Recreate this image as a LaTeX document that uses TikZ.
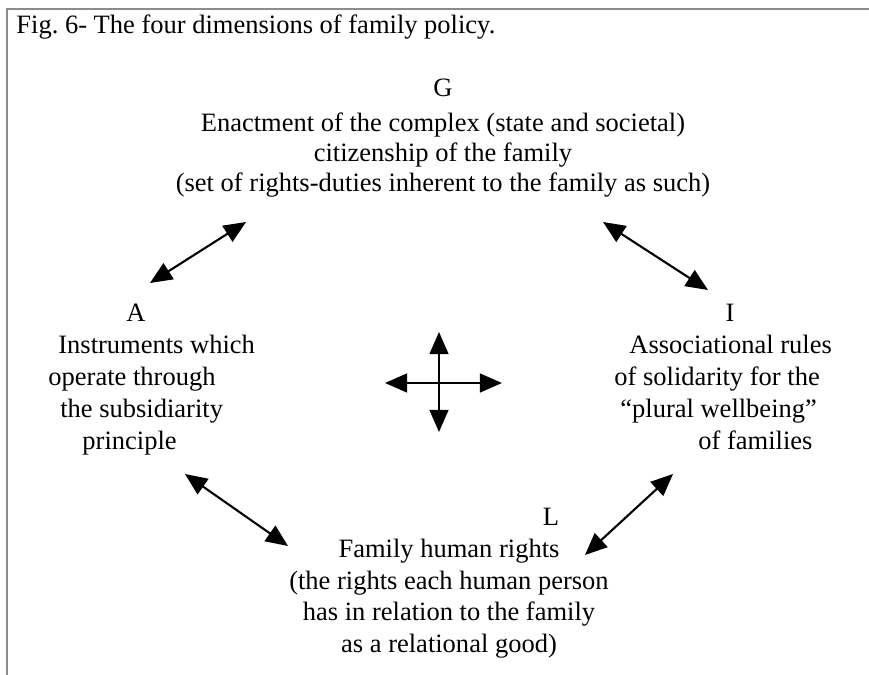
\documentclass[tikz,border=0pt]{standalone}
\usepackage{fontspec}
\setmainfont{Liberation Serif}
\usetikzlibrary{arrows.meta}
\frenchspacing

\tikzset{
  label/.style={inner sep=0pt, font=\fontsize{12}{14.5}\selectfont},
  biarrow/.style={line width=0.95pt, {Triangle[length=10pt,width=8.5pt]}-{Triangle[length=10pt,width=8.5pt]}},
  frameline/.style={line width=0.9pt, draw=black!45}
}

\begin{document}
\begin{tikzpicture}[x=0.4528pt, y=-0.4528pt]
  \useasboundingbox (0,0) rectangle (869,675);

  % frame (top and left edges only)
  \draw[frameline] (869,9) -- (7,9) -- (7,675);

  % caption
  \node[label, anchor=base west] (title) at (16,34) {Fig. 6- The four dimensions of family policy.};

  % multi-line nodes below are placed by the baseline of their last line

  % G
  \node[label, anchor=base] (G) at (443,97) {G};
  \node[label, align=center, anchor=base, font=\fontsize{12}{13.8}\selectfont] (Gtext) at (443,192)
    {Enactment of the complex (state and societal)\\
     citizenship of the family\\
     (set of rights-duties inherent to the family as such)};

  % A
  \node[label, anchor=base] (A) at (136,322) {A};
  \node[label, align=left, anchor=base west] (Atext) at (48,450)
    {\hspace*{4.5pt}Instruments which\\
     operate through\\
     \hspace*{5.4pt}the subsidiarity\\
     \hspace*{15.4pt}principle};

  % I
  \node[label, anchor=base] (I) at (730,322) {I};
  \node[label, align=left, anchor=base west] (Itext) at (614,450)
    {\hspace*{6.8pt}Associational rules\\
     of solidarity for the\\
     \hspace*{2.7pt}``plural wellbeing''\\
     \hspace*{38pt}of families};

  % L
  \node[label, anchor=base] (L) at (551,526) {L};
  \node[label, align=center, anchor=base, font=\fontsize{12}{14.2}\selectfont] (Ltext) at (449,652)
    {Family human rights\\
     (the rights each human person\\
     has in relation to the family\\
     as a relational good)};

  % arrow end points
  \coordinate (ga-a) at (150,283);
  \coordinate (ga-g) at (246,222);
  \coordinate (gi-g) at (603,222);
  \coordinate (gi-i) at (708,290);
  \coordinate (al-a) at (185,474);
  \coordinate (al-l) at (288,546);
  \coordinate (il-i) at (673,474);
  \coordinate (il-l) at (585,555);
  \coordinate (cross-n) at (439,332);
  \coordinate (cross-s) at (439,432);
  \coordinate (cross-w) at (385,383);
  \coordinate (cross-e) at (502,383);

  % connectors between the four dimensions
  \draw[biarrow] (ga-a) -- (ga-g);
  \draw[biarrow] (gi-g) -- (gi-i);
  \draw[biarrow] (al-a) -- (al-l);
  \draw[biarrow] (il-i) -- (il-l);

  % central cross
  \draw[biarrow] (cross-n) -- (cross-s);
  \draw[biarrow] (cross-w) -- (cross-e);
\end{tikzpicture}
\end{document}
